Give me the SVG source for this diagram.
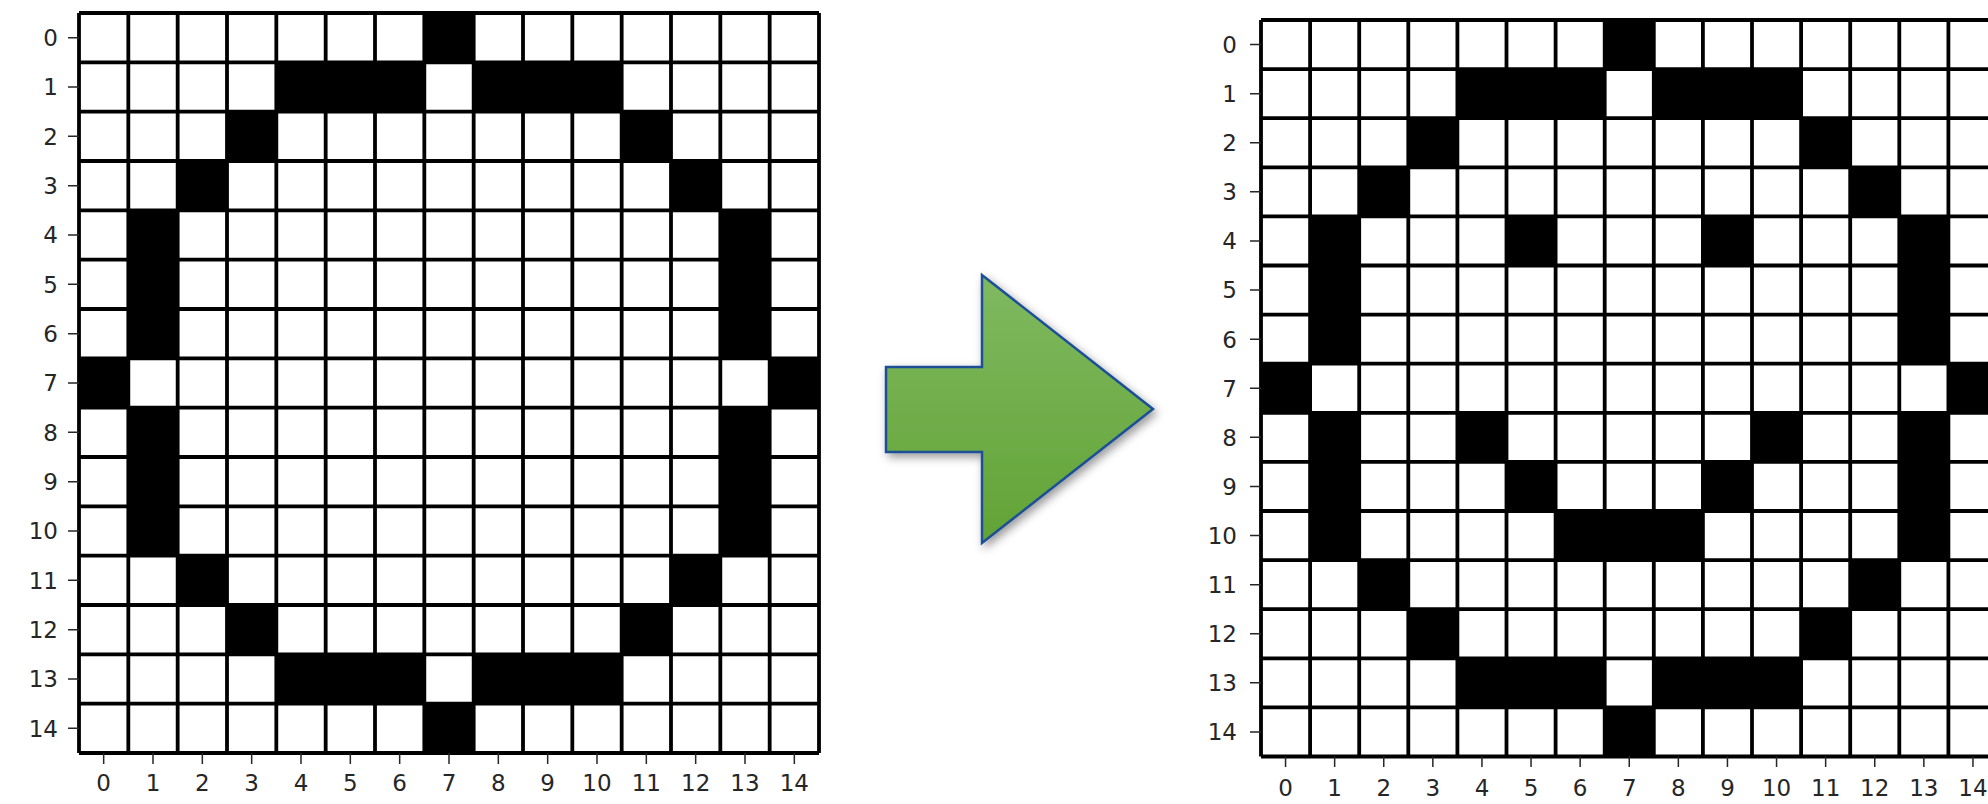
<svg xmlns="http://www.w3.org/2000/svg" width="1988" height="804" viewBox="0 0 1988 804">
<style>
.bg{fill:#fff}
.on{fill:#000}
.grid{fill:none;stroke:#000;stroke-width:3.8}
.tick{stroke:#262626;stroke-width:1.5}
.lbl{font-family:"DejaVu Sans",sans-serif;font-size:23px;fill:#262626}
.yl{text-anchor:end}
.xl{text-anchor:middle}
</style>
<defs>
<linearGradient id="ag" x1="0" y1="0" x2="0" y2="1">
<stop offset="0" stop-color="#80b961"/>
<stop offset="1" stop-color="#62a335"/>
</linearGradient>
<filter id="sh" x="-20%" y="-20%" width="140%" height="140%">
<feDropShadow dx="3" dy="4" stdDeviation="5" flood-color="#000" flood-opacity="0.4"/>
</filter>
<path id="ring" d="M7 0h1v1h-1zM4 1h3v1h-3zM8 1h3v1h-3zM3 2h1v1h-1zM11 2h1v1h-1zM2 3h1v1h-1zM12 3h1v1h-1zM1 4h1v3h-1zM13 4h1v3h-1zM0 7h1v1h-1zM14 7h1v1h-1zM1 8h1v3h-1zM13 8h1v3h-1zM2 11h1v1h-1zM12 11h1v1h-1zM3 12h1v1h-1zM11 12h1v1h-1zM4 13h3v1h-3zM8 13h3v1h-3zM7 14h1v1h-1z"/>
</defs>
<rect width="1988" height="804" fill="#fff"/>

<g id="grid-before">
<g transform="translate(79 13) scale(49.333)">
<rect class="bg" x="0" y="0" width="15" height="15"/>
<use href="#ring" class="on"/>
</g>
<path class="grid" d="M79 13V753M128.33 13V753M177.67 13V753M227 13V753M276.33 13V753M325.67 13V753M375 13V753M424.33 13V753M473.67 13V753M523 13V753M572.33 13V753M621.67 13V753M671 13V753M720.33 13V753M769.67 13V753M819 13V753M79 13H819M79 62.33H819M79 111.67H819M79 161H819M79 210.33H819M79 259.67H819M79 309H819M79 358.33H819M79 407.67H819M79 457H819M79 506.33H819M79 555.67H819M79 605H819M79 654.33H819M79 703.67H819M79 753H819"/>
<g class="tick">
<path d="M68 37.67H79M68 87H79M68 136.33H79M68 185.67H79M68 235H79M68 284.33H79M68 333.67H79M68 383H79M68 432.33H79M68 481.67H79M68 531H79M68 580.33H79M68 629.67H79M68 679H79M68 728.33H79"/>
<path d="M103.67 753V764M153 753V764M202.33 753V764M251.67 753V764M301 753V764M350.33 753V764M399.67 753V764M449 753V764M498.33 753V764M547.67 753V764M597 753V764M646.33 753V764M695.67 753V764M745 753V764M794.33 753V764"/>
</g>
<g class="lbl yl">
<text x="58" y="46">0</text><text x="58" y="95.3">1</text><text x="58" y="144.6">2</text><text x="58" y="194">3</text><text x="58" y="243.3">4</text><text x="58" y="292.6">5</text><text x="58" y="342">6</text><text x="58" y="391.3">7</text><text x="58" y="440.6">8</text><text x="58" y="490">9</text><text x="58" y="539.3">10</text><text x="58" y="588.6">11</text><text x="58" y="638">12</text><text x="58" y="687.3">13</text><text x="58" y="736.6">14</text>
</g>
<g class="lbl xl">
<text x="103.67" y="791">0</text><text x="153" y="791">1</text><text x="202.33" y="791">2</text><text x="251.67" y="791">3</text><text x="301" y="791">4</text><text x="350.33" y="791">5</text><text x="399.67" y="791">6</text><text x="449" y="791">7</text><text x="498.33" y="791">8</text><text x="547.67" y="791">9</text><text x="597" y="791">10</text><text x="646.33" y="791">11</text><text x="695.67" y="791">12</text><text x="745" y="791">13</text><text x="794.33" y="791">14</text>
</g>
</g>

<g id="arrow">
<polygon points="886,367 982,367 982,275 1153,409 982,543 982,452 886,452" fill="url(#ag)" stroke="#1a4f96" stroke-width="2.5" stroke-linejoin="miter" filter="url(#sh)"/>
</g>

<g id="grid-after">
<g transform="translate(1261 20) scale(49.1)">
<rect class="bg" x="0" y="0" width="15" height="15"/>
<use href="#ring" class="on"/>
<path class="on" d="M5 4h1v1h-1zM9 4h1v1h-1zM4 8h1v1h-1zM10 8h1v1h-1zM5 9h1v1h-1zM9 9h1v1h-1zM6 10h3v1h-3z"/>
</g>
<path class="grid" d="M1261 20V756.5M1310.1 20V756.5M1359.2 20V756.5M1408.3 20V756.5M1457.4 20V756.5M1506.5 20V756.5M1555.6 20V756.5M1604.7 20V756.5M1653.8 20V756.5M1702.9 20V756.5M1752 20V756.5M1801.1 20V756.5M1850.2 20V756.5M1899.3 20V756.5M1948.4 20V756.5M1997.5 20V756.5M1261 20H1997.5M1261 69.1H1997.5M1261 118.2H1997.5M1261 167.3H1997.5M1261 216.4H1997.5M1261 265.5H1997.5M1261 314.6H1997.5M1261 363.7H1997.5M1261 412.8H1997.5M1261 461.9H1997.5M1261 511H1997.5M1261 560.1H1997.5M1261 609.2H1997.5M1261 658.3H1997.5M1261 707.4H1997.5M1261 756.5H1997.5"/>
<g class="tick">
<path d="M1250 44.55H1261M1250 93.65H1261M1250 142.75H1261M1250 191.85H1261M1250 240.95H1261M1250 290.05H1261M1250 339.15H1261M1250 388.25H1261M1250 437.35H1261M1250 486.45H1261M1250 535.55H1261M1250 584.65H1261M1250 633.75H1261M1250 682.85H1261M1250 731.95H1261"/>
<path d="M1285.55 756.5V767M1334.65 756.5V767M1383.75 756.5V767M1432.85 756.5V767M1481.95 756.5V767M1531.05 756.5V767M1580.15 756.5V767M1629.25 756.5V767M1678.35 756.5V767M1727.45 756.5V767M1776.55 756.5V767M1825.65 756.5V767M1874.75 756.5V767M1923.85 756.5V767M1972.95 756.5V767"/>
</g>
<g class="lbl yl">
<text x="1237" y="52.9">0</text><text x="1237" y="102">1</text><text x="1237" y="151.1">2</text><text x="1237" y="200.2">3</text><text x="1237" y="249.3">4</text><text x="1237" y="298.4">5</text><text x="1237" y="347.5">6</text><text x="1237" y="396.6">7</text><text x="1237" y="445.7">8</text><text x="1237" y="494.8">9</text><text x="1237" y="543.9">10</text><text x="1237" y="593">11</text><text x="1237" y="642.1">12</text><text x="1237" y="691.2">13</text><text x="1237" y="740.3">14</text>
</g>
<g class="lbl xl">
<text x="1285.55" y="796">0</text><text x="1334.65" y="796">1</text><text x="1383.75" y="796">2</text><text x="1432.85" y="796">3</text><text x="1481.95" y="796">4</text><text x="1531.05" y="796">5</text><text x="1580.15" y="796">6</text><text x="1629.25" y="796">7</text><text x="1678.35" y="796">8</text><text x="1727.45" y="796">9</text><text x="1776.55" y="796">10</text><text x="1825.65" y="796">11</text><text x="1874.75" y="796">12</text><text x="1923.85" y="796">13</text><text x="1972.95" y="796">14</text>
</g>
</g>
</svg>
